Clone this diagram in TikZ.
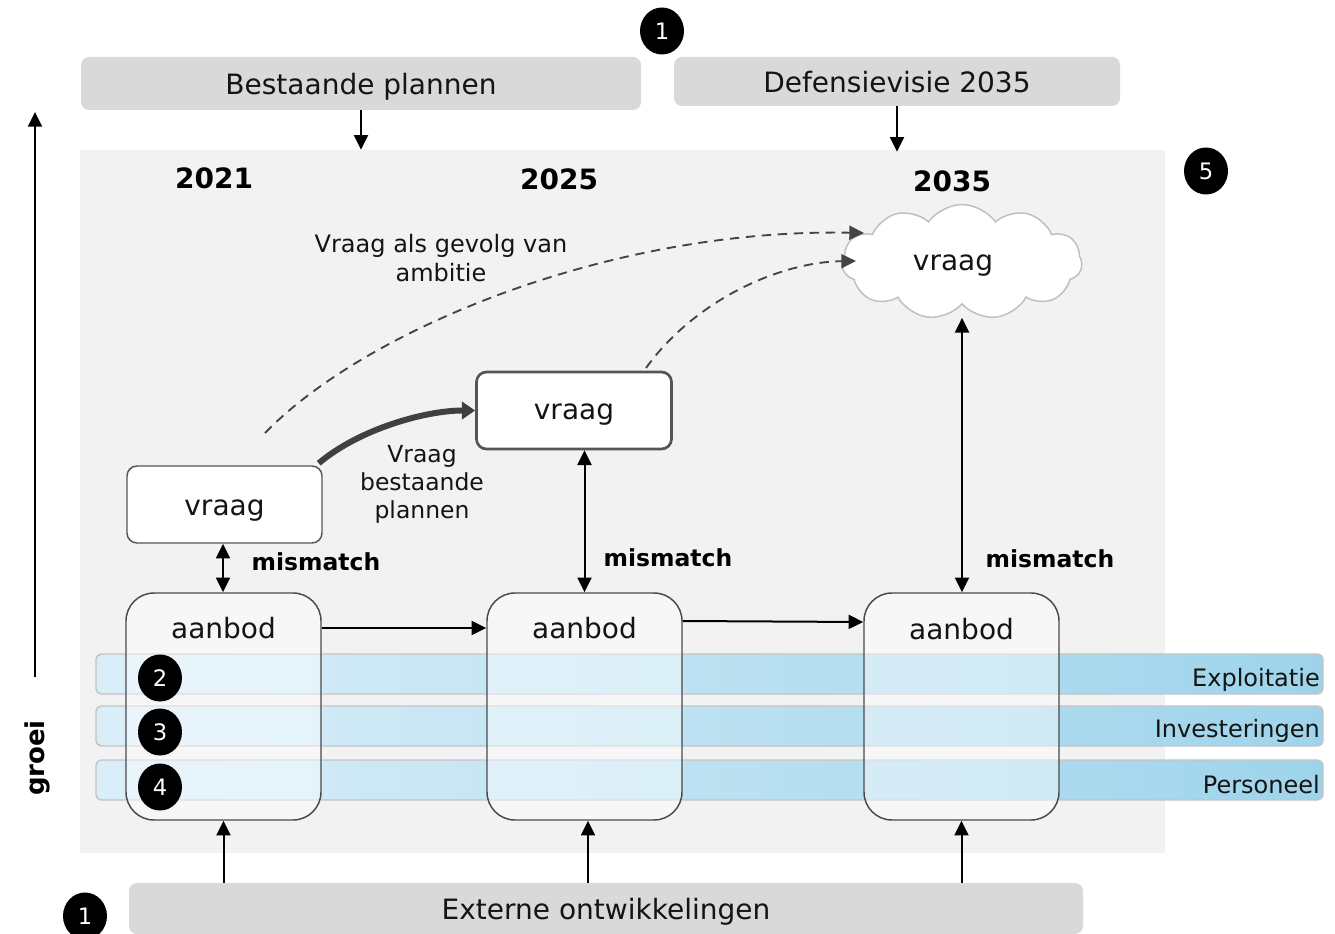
\documentclass[tikz,border=0pt]{standalone}
\usepackage{fontspec}
\setmainfont{DejaVu Sans}
\usetikzlibrary{arrows.meta,shapes.symbols,shapes.geometric}
\newlength\px
\setlength\px{0.75pt}
\definecolor{panelgray}{HTML}{F2F2F2}
\definecolor{topgray}{HTML}{D9D9D9}
\definecolor{boxborder}{HTML}{555555}
\definecolor{aborder}{HTML}{4A4A4A}
\definecolor{bandL}{HTML}{DAEEF8}
\definecolor{bandR}{HTML}{9ED4EB}
\definecolor{bandborder}{HTML}{C4C4C4}
\definecolor{cloudborder}{HTML}{BFBFBF}
\definecolor{dashcol}{HTML}{444444}
\definecolor{fatcol}{HTML}{404040}
\definecolor{txt}{HTML}{141414}
\begin{document}
\begin{tikzpicture}[x=0.75pt,y=-0.75pt,
  mainf/.style={font=\fontsize{21}{25}\selectfont, text=txt},
  topbox/.style={fill=topgray, rounded corners=6pt, inner sep=0pt, text depth=0pt, mainf},
  vbox/.style={draw=boxborder, fill=white, rounded corners=7.5pt, line width=1.1pt,
    minimum width=195\px, minimum height=77\px, inner sep=0pt, text depth=0pt, mainf},
  abox/.style={draw=aborder, fill=white, fill opacity=0.45, rounded corners=21pt,
    line width=1.1pt, minimum width=195\px, minimum height=227\px, inner sep=0pt},
  band/.style={draw=bandborder, line width=1.1pt, rounded corners=4pt,
    left color=bandL, right color=bandR, minimum width=1227\px, minimum height=40\px, inner sep=0pt},
  dot/.style={ellipse, fill=black, text=white, inner sep=0pt, minimum width=44\px,
    minimum height=47\px, font=\fontsize{17}{20}\selectfont},
  arr/.style={-{Triangle[width=10.5pt,length=11pt]}, line width=1.5pt, draw=black},
  dbl/.style={{Triangle[width=10.5pt,length=11pt]}-{Triangle[width=10.5pt,length=11pt]}, line width=1.5pt, draw=black},
  dsh/.style={-{Triangle[width=10.5pt,length=11pt]}, line width=1.4pt, draw=dashcol, dash pattern=on 7pt off 5pt},
  fat/.style={-{Triangle[width=13pt,length=10pt]}, line width=4.5pt, draw=fatcol},
  year/.style={font=\fontsize{21}{25}\selectfont\bfseries, text=black, inner sep=0pt},
  mism/.style={font=\fontsize{17.6}{21}\selectfont\bfseries, text=black, inner sep=0pt},
  small/.style={font=\fontsize{17.6}{21}\selectfont, text=txt, inner sep=0pt, align=center},
  bandlbl/.style={font=\fontsize{18}{21}\selectfont, text=txt, inner sep=0pt, anchor=east}
]
\useasboundingbox (0,0) rectangle (1335,934);
\fill[white] (0,0) rectangle (1335,934);

% top and bottom boxes
\node[topbox, minimum width=560\px, minimum height=53\px] (bp) at (361,83.5) {Bestaande plannen};
\node[topbox, minimum width=446\px, minimum height=49\px] (dv) at (897,81.5) {Defensievisie 2035};
\node[topbox, minimum width=954\px, minimum height=51\px] (ext) at (606,908.5) {Externe ontwikkelingen};

% panel
\node[fill=panelgray, minimum width=1085\px, minimum height=703\px, inner sep=0pt] (panel) at (622.5,501.5) {};

% numbered dots outside
\node[dot] (n1a) at (662,31) {1};
\node[dot] (n1b) at (85,916) {1};
\node[dot] (n5) at (1206,171) {5};

% arrows into panel
\draw[arr] (bp.south) -- (bp.south |- panel.north);
\draw[arr] (dv.south) -- ([yshift=-2\px]dv.south |- panel.north);

% years
\node[year] (y1) at (214,178) {2021};
\node[year] (y2) at (559,179) {2025};
\node[year] (y3) at (952,181) {2035};

% bands
\node[band] (b1) at (709.5,674) {};
\node[band] (b2) at (709.5,726) {};
\node[band] (b3) at (709.5,780) {};
\node[bandlbl] (l1) at (1320,680) {Exploitatie};
\node[bandlbl] (l2) at (1320,731) {Investeringen};
\node[bandlbl] (l3) at (1320,785) {Personeel};

% aanbod boxes
\node[abox] (a1) at (223.5,706.5) {};
\node[abox] (a2) at (584.5,706.5) {};
\node[abox] (a3) at (961.5,706.5) {};
\node[mainf, inner sep=0pt] (t1) at (223.5,628) {aanbod};
\node[mainf, inner sep=0pt] (t2) at (584.5,628) {aanbod};
\node[mainf, inner sep=0pt] (t3) at (961.5,629) {aanbod};

% dots 2-4
\node[dot] (n2) at (160,678) {2};
\node[dot] (n3) at (160,732) {3};
\node[dot] (n4) at (160,787) {4};

% vraag boxes
\node[vbox, text height=21\px] (v1) at (224.5,504.5) {vraag};
\node[vbox, line width=2pt, text height=18\px] (v2) at (574,410.5) {vraag};
\node[cloud, cloud puffs=11, cloud puff arc=110, aspect=2.1, draw=cloudborder, fill=white,
  line width=1.1pt, minimum width=240\px, minimum height=115\px, inner sep=0pt, text depth=0pt,
  text height=18\px, mainf] (cl) at (962,262) {vraag\hspace*{18\px}};

% horizontal arrows
\draw[arr] (a1.east |- t1) -- (a2.west |- t1);
\draw[arr] (a2.east |- 0,621) -- (a3.west |- 0,622);

% mismatch arrows
\draw[dbl] (v1.south -| 223,0) -- (a1.north -| 223,0);
\draw[dbl] (a2.north |- v2.south) -- (a2.north);
\draw[dbl] ([yshift=-13\px]cl.south) -- (a3.north -| cl.south);
\node[mism] (m1) at (316,562) {mismatch};
\node[mism] (m2) at (668,558) {mismatch};
\node[mism] (m3) at (1050,559) {mismatch};

% externe arrows
\draw[arr] (ext.north -| a1.south) -- (a1.south);
\draw[arr] (ext.north -| 588,0) -- (a2.south -| 588,0);
\draw[arr] (ext.north -| a3.south) -- (a3.south);

% thick curved arrow
\draw[fat] ([shift={(-4,-2)}]v1.north east) .. controls +(40,-34) and +(-50,0) .. (v2.west);
\node[small] (vbp) at (422,484) {Vraag\\bestaande\\plannen};

% dashed curves
\coordinate (d1s) at (265,433);
\coordinate (d1e) at (864,233);
\draw[dsh] (d1s) .. controls (365,330) and (610,228) .. (d1e);
\coordinate (d2s) at (646,368);
\coordinate (d2e) at (856,261);
\draw[dsh] (d2s) .. controls (695,300) and (780,262) .. (d2e);
\node[small, font=\fontsize{18}{21.75}\selectfont] (amb) at (441,258.5) {Vraag als gevolg van\\ambitie};

% groei
\coordinate (g1) at (35,677);
\coordinate (g2) at (35,112);
\draw[arr] (g1) -- (g2);
\node[rotate=90, font=\fontsize{19.5}{23}\selectfont\bfseries, text=black, inner sep=0pt] (groei) at (37,758) {groei};
\end{tikzpicture}
\end{document}
